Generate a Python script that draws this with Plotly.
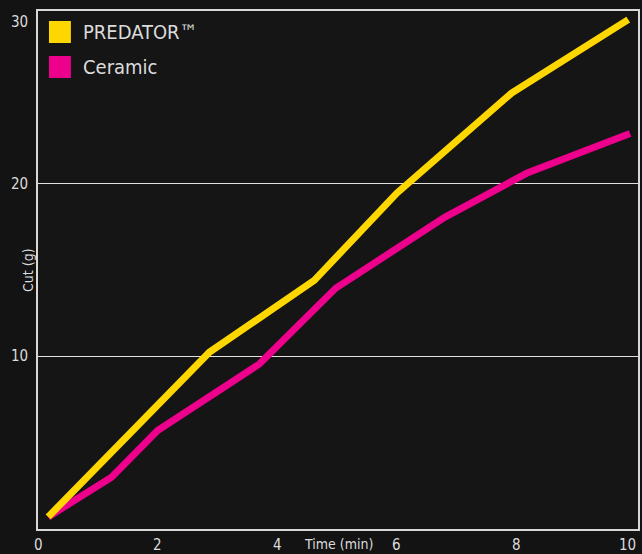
import plotly.graph_objects as go

# Data
series_names = ["PREDATOR™", "Ceramic"]
predator_x = [0.17, 2.87, 4.62, 6.0, 7.92, 9.87]
predator_y = [0.7, 10.25, 14.4, 19.45, 25.25, 29.5]
ceramic_x = [0.17, 1.23, 2.0, 3.7, 4.98, 6.8, 8.17, 9.9]
ceramic_y = [0.7, 3.0, 5.7, 9.55, 13.95, 18.05, 20.6, 22.9]
x_ticks = [0, 2, 4, 6, 8, 10]
y_ticks = [10, 20, 30]
colors = ["#FFD700", "#EC008C"]

FONT = "DejaVu Sans Condensed, Liberation Sans Narrow, DejaVu Sans, sans-serif"
TXT = "#dcdcdc"

fig = go.Figure()
for name, xs, ys, c in [(series_names[0], predator_x, predator_y, colors[0]),
                        (series_names[1], ceramic_x, ceramic_y, colors[1])][::-1]:
    fig.add_trace(go.Scatter(x=xs, y=ys, mode="lines", name=name,
                             line=dict(color=c, width=7), showlegend=False))

annotations = []
for t in x_ticks:
    annotations.append(dict(x=t, y=0, xref="x", yref="paper", text=str(t),
                            showarrow=False, yanchor="top", yshift=-5,
                            xanchor="right" if t == x_ticks[-1] else "center",
                            xshift=2 if t == x_ticks[-1] else 0,
                            font=dict(family=FONT, size=15, color=TXT)))
for t in y_ticks:
    annotations.append(dict(x=0, y=t, xref="paper", yref="y", text=str(t),
                            showarrow=False, xanchor="center", xshift=-19,
                            yanchor="top" if t == y_ticks[-1] else "middle",
                            font=dict(family=FONT, size=15, color=TXT)))
annotations.append(dict(x=5.03, y=0, xref="x", yref="paper", text="Time (min)",
                        showarrow=False, yanchor="top", yshift=-5,
                        font=dict(family=FONT, size=14, color=TXT)))
annotations.append(dict(x=0, y=0.5, xref="paper", yref="paper", text="Cut (g)",
                        showarrow=False, textangle=-90, xshift=-20,
                        font=dict(family=FONT, size=14, color=TXT)))

# manual legend
shapes = []
for i, (name, c) in enumerate(zip(series_names, colors)):
    top = 21 + i * 35
    shapes.append(dict(type="rect", xref="paper", yref="paper",
                       x0=(49 - 38) / 602, x1=(71 - 38) / 602,
                       y0=(529 - (top + 22)) / 518, y1=(529 - top) / 518,
                       fillcolor=c, line=dict(width=0)))
    annotations.append(dict(x=(81 - 38) / 602, y=(529 - (top + 11)) / 518,
                            xref="paper", yref="paper", text=name, showarrow=False,
                            xanchor="left", yanchor="middle",
                            font=dict(family=FONT, size=20, color=TXT)))

fig.update_layout(
    width=642, height=554,
    margin=dict(l=38, r=2, t=11, b=25),
    paper_bgcolor="#131313", plot_bgcolor="#151515",
    xaxis=dict(range=[0, 602 / 60], showgrid=False, zeroline=False,
               showline=True, mirror=True, linecolor="#d8d8d8", linewidth=1.5,
               showticklabels=False, ticks=""),
    yaxis=dict(range=[0, 30], tickvals=y_ticks, showgrid=True, gridcolor="#e0e0e0",
               gridwidth=1.2, zeroline=False, showline=True, mirror=True,
               linecolor="#d8d8d8", linewidth=1.5, showticklabels=False, ticks=""),
    annotations=annotations, shapes=shapes, showlegend=False,
)
fig.write_html("out.html", config={"displayModeBar": False},
               post_script="document.body.style.margin='0';document.body.style.background='#131313';")
